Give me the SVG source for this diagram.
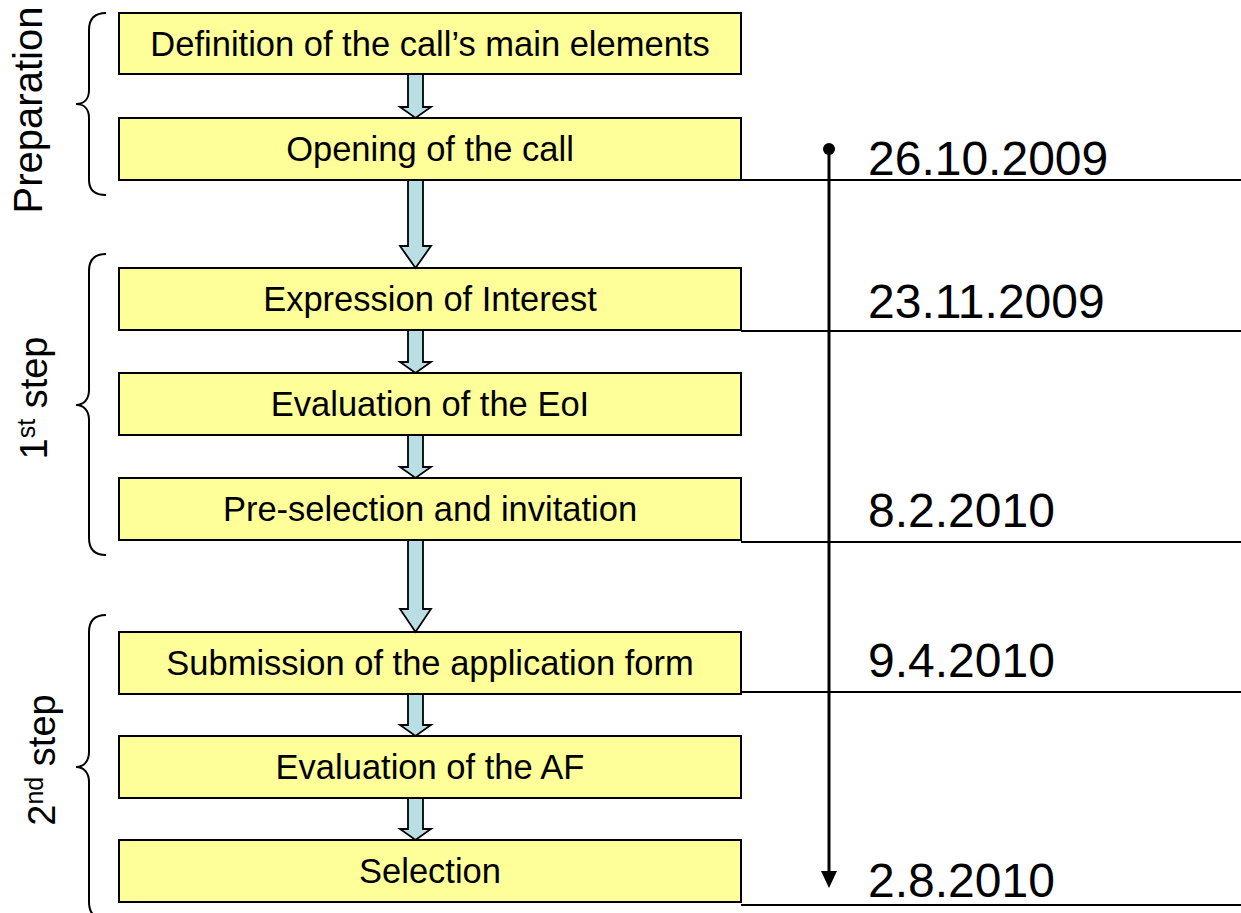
<svg xmlns="http://www.w3.org/2000/svg" width="1241" height="913" viewBox="0 0 1241 913">
<style>
.box{fill:#FFFF99;stroke:#000;stroke-width:2}
.bt{font-family:"Liberation Sans",Arial,sans-serif;font-size:34.5px;fill:#000;text-anchor:middle}
.date{font-family:"Liberation Sans",Arial,sans-serif;font-size:48px;fill:#000}
.lab{font-family:"Liberation Sans",Arial,sans-serif;font-size:38px;fill:#000;text-anchor:middle}
.arr{fill:#B9DEE3;stroke:#000;stroke-width:1.8;stroke-linejoin:miter}
.brace{fill:none;stroke:#000;stroke-width:2}
.dl{stroke:#000;stroke-width:2}
</style>

<g id="labels">
<g id="label-preparation">
<path class="brace" d="M106,13 C95,13 89,18 89,30 L89,90 C89,99 84,104 76,104 C84,104 89,109 89,118 L89,180 C89,190 95,195 106,195"/>
<text class="lab" transform="translate(42,110) rotate(-90)" style="font-size:40px">Preparation</text>
</g>
<g id="label-step1">
<path class="brace" d="M106,254 C95,254 89,259 89,271 L89,390 C89,399 84,405 76,405 C84,405 89,411 89,420 L89,538 C89,549 95,555 106,555"/>
<text class="lab" transform="translate(47,398) rotate(-90)">1<tspan style="font-size:25px" dy="-12">st</tspan><tspan dy="12"> step</tspan></text>
</g>
<g id="label-step2">
<path class="brace" d="M106,615 C95,615 89,620 89,632 L89,752 C89,761 84,767 76,767 C84,767 89,773 89,782 L89,902 C89,913 95,919 106,919"/>
<text class="lab" transform="translate(55,760) rotate(-90)">2<tspan style="font-size:25px" dy="-12">nd</tspan><tspan dy="12"> step</tspan></text>
</g>
</g>

<g id="node-1"><rect class="box" x="119" y="13" width="622" height="61"/><text class="bt" x="430" y="56">Definition of the call’s main elements</text></g>
<g id="node-2"><rect class="box" x="119" y="118" width="622" height="62"/><text class="bt" x="430" y="161">Opening of the call</text></g>
<g id="node-3"><rect class="box" x="119" y="268" width="622" height="62"/><text class="bt" x="430" y="311">Expression of Interest</text></g>
<g id="node-4"><rect class="box" x="119" y="373" width="622" height="62"/><text class="bt" x="430" y="416">Evaluation of the EoI</text></g>
<g id="node-5"><rect class="box" x="119" y="478" width="622" height="62"/><text class="bt" x="430" y="521">Pre-selection and invitation</text></g>
<g id="node-6"><rect class="box" x="119" y="632" width="622" height="62"/><text class="bt" x="430" y="675">Submission of the application form</text></g>
<g id="node-7"><rect class="box" x="119" y="736" width="622" height="62"/><text class="bt" x="430" y="779">Evaluation of the AF</text></g>
<g id="node-8"><rect class="box" x="119" y="840" width="622" height="62"/><text class="bt" x="430" y="883">Selection</text></g>

<g id="connectors">
<path class="arr" d="M408,74 H423 V107 H431 L415.5,118 L400,107 H408 Z"/>
<path class="arr" d="M408,180 H423 V246 H431 L415.5,268 L400,246 H408 Z"/>
<path class="arr" d="M408,330 H423 V362 H431 L415.5,373 L400,362 H408 Z"/>
<path class="arr" d="M408,435 H423 V467 H431 L415.5,478 L400,467 H408 Z"/>
<path class="arr" d="M408,540 H423 V609 H431 L415.5,632 L400,609 H408 Z"/>
<path class="arr" d="M408,694 H423 V725 H431 L415.5,736 L400,725 H408 Z"/>
<path class="arr" d="M408,798 H423 V829 H431 L415.5,840 L400,829 H408 Z"/>
</g>

<g id="timeline">
<line class="dl" x1="741" y1="180" x2="1241" y2="180"/>
<line class="dl" x1="741" y1="331" x2="1241" y2="331"/>
<line class="dl" x1="741" y1="542" x2="1241" y2="542"/>
<line class="dl" x1="741" y1="692" x2="1241" y2="692"/>
<line class="dl" x1="741" y1="905" x2="1241" y2="905"/>
<circle cx="829" cy="149" r="6" fill="#000"/>
<line x1="829" y1="149" x2="829" y2="873" stroke="#000" stroke-width="3"/>
<path d="M821,871 L837,871 L829,888 Z" fill="#000"/>
<text class="date" x="868" y="175">26.10.2009</text>
<text class="date" x="868" y="318">23.11.2009</text>
<text class="date" x="868" y="527">8.2.2010</text>
<text class="date" x="868" y="677">9.4.2010</text>
<text class="date" x="868" y="897">2.8.2010</text>
</g>
</svg>
